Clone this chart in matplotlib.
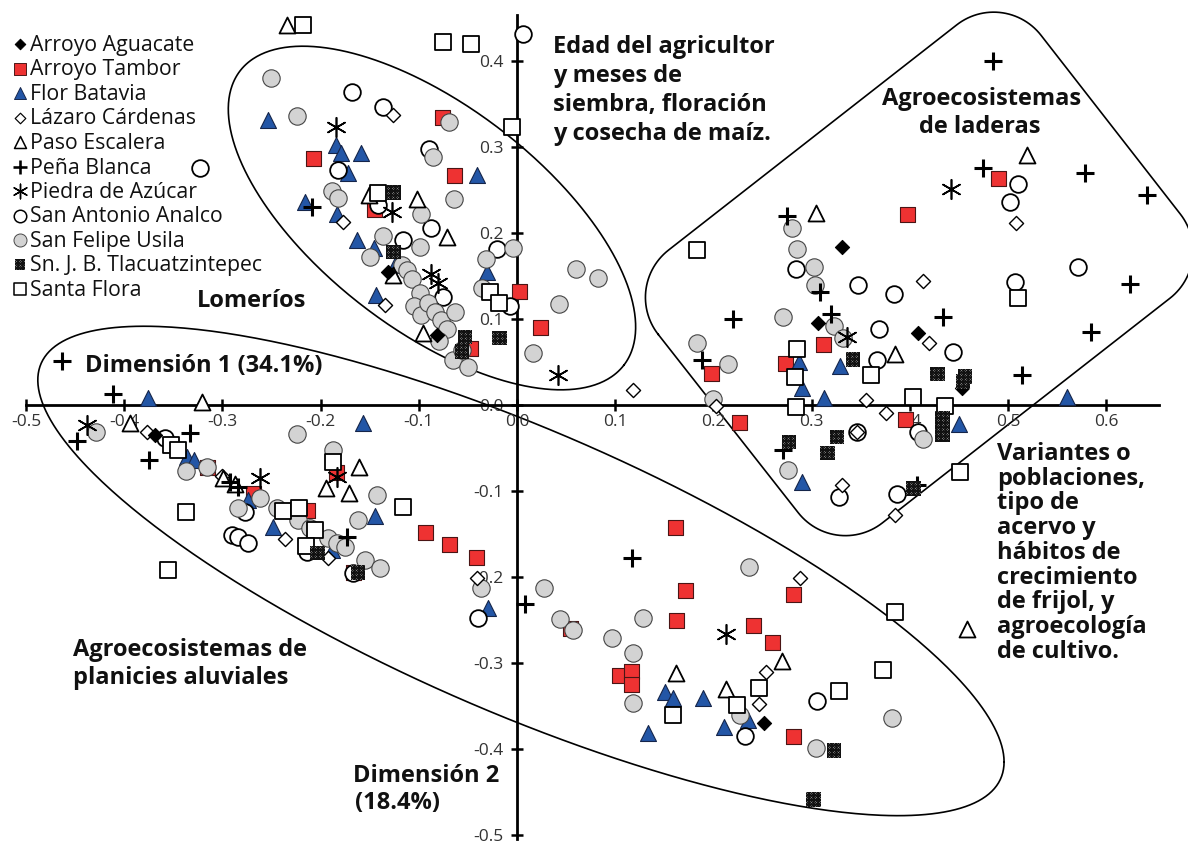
import numpy as np
import matplotlib
matplotlib.use("Agg")
import matplotlib.pyplot as plt

plt.rcParams['font.family'] = ['Open Sans', 'DejaVu Sans']
plt.rcParams['axes.unicode_minus'] = False
plt.rcParams['hatch.linewidth'] = 0.8

# ---------------- data: (Dimensión 1, Dimensión 2) ----------------
aguacate_x = [-0.131, -0.081, 0.331, 0.307, 0.408, 0.453, -0.369, 0.252]
aguacate_y = [0.155, 0.081, 0.184, 0.095, 0.084, 0.020, -0.035, -0.370]

tambor_x = [-0.076, -0.208, -0.064, -0.146, 0.002, 0.023, -0.048,
            0.490, 0.397, 0.312, 0.273, 0.198, 0.226, 0.395,
            -0.316, -0.184, -0.269, -0.214, -0.167, -0.094, -0.069, -0.042,
            0.054, 0.161, 0.171, 0.162, 0.104, 0.116, 0.116, 0.240, 0.260, 0.281, 0.281]
tambor_y = [0.335, 0.287, 0.267, 0.228, 0.133, 0.091, 0.066,
            0.264, 0.222, 0.071, 0.049, 0.037, -0.020, -0.016,
            -0.072, -0.078, -0.102, -0.122, -0.194, -0.148, -0.162, -0.177,
            -0.259, -0.142, -0.215, -0.250, -0.314, -0.309, -0.324, -0.256, -0.276, -0.220, -0.385]

batavia_x = [-0.254, -0.184, -0.179, -0.159, -0.172, -0.216, -0.183, -0.163, -0.146, -0.041,
             -0.144, -0.031, -0.124,
             0.287, 0.329, 0.290, 0.313, 0.450, 0.560, 0.290,
             -0.376, -0.157, -0.336, -0.329, -0.274, -0.248, -0.145, -0.188,
             -0.030, 0.151, 0.159, 0.189, 0.133, 0.211, 0.235]
batavia_y = [0.331, 0.302, 0.293, 0.293, 0.270, 0.236, 0.222, 0.192, 0.183, 0.267,
             0.128, 0.155, 0.163,
             0.050, 0.045, 0.020, 0.008, -0.022, 0.009, -0.090,
             0.008, -0.021, -0.060, -0.064, -0.110, -0.142, -0.129, -0.169,
             -0.236, -0.334, -0.341, -0.341, -0.381, -0.374, -0.366]

lazaro_x = [-0.126, -0.177, -0.134, 0.508, 0.413, 0.420, 0.355, 0.376, 0.346, 0.331,
            0.385, 0.203, 0.118, -0.377, -0.236, -0.192, -0.041, 0.288, 0.254, 0.246, -0.300]
lazaro_y = [0.337, 0.213, 0.116, 0.212, 0.144, 0.072, 0.006, -0.009, -0.031, -0.093,
            -0.128, -0.001, 0.017, -0.031, -0.156, -0.178, -0.201, -0.201, -0.310, -0.348, -0.083]

paso_x = [-0.234, -0.151, -0.102, -0.071, -0.126, -0.096, 0.519, 0.304, 0.385,
          -0.321, -0.394, -0.161, -0.195, -0.171, 0.162, 0.213, 0.270, 0.458, -0.299, -0.287]
paso_y = [0.442, 0.244, 0.240, 0.195, 0.151, 0.084, 0.291, 0.223, 0.059,
          0.003, -0.021, -0.072, -0.097, -0.102, -0.312, -0.330, -0.298, -0.260, -0.085, -0.092]

pena_x = [-0.209, 0.485, 0.475, 0.578, 0.642, 0.624, 0.585, 0.514, 0.434, 0.320, 0.309,
          0.275, 0.220, 0.188, 0.271, 0.407, -0.463, -0.411, -0.448, -0.375, -0.333,
          -0.173, 0.117, 0.008, -0.292, -0.284]
pena_y = [0.230, 0.400, 0.276, 0.270, 0.244, 0.141, 0.085, 0.035, 0.102, 0.106, 0.131,
          0.220, 0.100, 0.052, -0.052, -0.093, 0.051, 0.013, -0.042, -0.064, -0.033,
          -0.153, -0.178, -0.231, -0.090, -0.095]

piedra_x = [-0.184, -0.127, -0.088, -0.080, 0.042, 0.442, 0.336, -0.438, -0.262, -0.183, 0.213]
piedra_y = [0.323, 0.224, 0.152, 0.142, 0.035, 0.251, 0.079, -0.023, -0.085, -0.084, -0.266]

analco_x = [-0.323, 0.006, -0.168, -0.136, -0.090, -0.182, -0.142, -0.088, -0.116, -0.020,
            -0.075, -0.007, 0.510, 0.502, 0.571, 0.507, 0.284, 0.347, 0.384, 0.369,
            0.444, 0.367, 0.346, 0.408, 0.328, 0.387, -0.358, -0.290, -0.284, -0.274,
            -0.277, -0.214, -0.167, -0.040, 0.306, 0.232]
analco_y = [0.276, 0.431, 0.364, 0.347, 0.298, 0.273, 0.233, 0.206, 0.192, 0.181,
            0.126, 0.115, 0.257, 0.236, 0.160, 0.143, 0.158, 0.140, 0.129, 0.088,
            0.062, 0.052, -0.031, -0.031, -0.107, -0.103, -0.038, -0.151, -0.153, -0.160,
            -0.124, -0.171, -0.195, -0.248, -0.344, -0.385]

usila_x = [-0.251, -0.224, -0.069, -0.086, -0.064, -0.188, -0.182, -0.098, -0.136, -0.099,
           -0.150, -0.117, -0.112, -0.107, -0.099, -0.105, -0.098, -0.091, -0.084, -0.077,
           -0.071, -0.063, -0.079, -0.065, -0.050, -0.056, -0.032, -0.004, -0.036, 0.016,
           0.060, 0.082, 0.043,
           0.280, 0.285, 0.302, 0.303, 0.271, 0.323, 0.332, 0.183, 0.215, 0.200, 0.413, 0.276,
           -0.429, -0.337, -0.316, -0.224, -0.187, -0.143, -0.162, -0.284, -0.262, -0.244,
           -0.223, -0.211, -0.192, -0.183, -0.175, -0.155, -0.140,
           -0.037, 0.027, 0.044, 0.057, 0.097, 0.118, 0.128, 0.118, 0.236, 0.227, 0.304, 0.382]
usila_y = [0.380, 0.336, 0.329, 0.288, 0.240, 0.249, 0.241, 0.222, 0.197, 0.184,
           0.172, 0.163, 0.157, 0.147, 0.130, 0.115, 0.105, 0.119, 0.108, 0.099,
           0.088, 0.108, 0.074, 0.052, 0.044, 0.064, 0.170, 0.183, 0.136, 0.060,
           0.158, 0.148, 0.117,
           0.206, 0.181, 0.160, 0.140, 0.102, 0.092, 0.078, 0.072, 0.048, 0.007, -0.040, -0.076,
           -0.031, -0.077, -0.072, -0.034, -0.052, -0.105, -0.134, -0.120, -0.108, -0.120,
           -0.134, -0.143, -0.155, -0.160, -0.165, -0.180, -0.190,
           -0.213, -0.213, -0.249, -0.262, -0.271, -0.288, -0.248, -0.347, -0.188, -0.360, -0.399, -0.364]

tlacu_x = [-0.126, -0.126, -0.053, -0.056, -0.018, 0.342, 0.428, 0.456, 0.454, 0.433,
           0.433, 0.433, 0.277, 0.326, 0.316, 0.404, -0.203, -0.162, 0.323, 0.302]
tlacu_y = [0.247, 0.178, 0.079, 0.062, 0.078, 0.053, 0.036, 0.033, 0.027, -0.023,
           -0.035, -0.015, -0.043, -0.037, -0.056, -0.097, -0.172, -0.195, -0.402, -0.459]

flora_x = [-0.218, -0.075, -0.047, -0.005, -0.142, -0.027, -0.018, 0.183, 0.510, 0.285,
           0.283, 0.360, 0.403, 0.436, 0.284, 0.451, -0.352, -0.345, -0.337, -0.355,
           -0.187, -0.238, -0.222, -0.206, -0.215, -0.116, 0.159, 0.224, 0.246, 0.328, 0.373, 0.385]
flora_y = [0.442, 0.422, 0.420, 0.323, 0.247, 0.131, 0.119, 0.180, 0.124, 0.065,
           0.033, 0.035, 0.009, -0.001, -0.002, -0.078, -0.047, -0.052, -0.124, -0.192,
           -0.066, -0.123, -0.120, -0.145, -0.164, -0.119, -0.360, -0.349, -0.329, -0.333, -0.308, -0.241]

series_labels = ['Arroyo Aguacate', 'Arroyo Tambor', 'Flor Batavia', 'Lázaro Cárdenas',
                 'Paso Escalera', 'Peña Blanca', 'Piedra de Azúcar', 'San Antonio Analco',
                 'San Felipe Usila', 'Sn. J. B. Tlacuatzintepec', 'Santa Flora']

x_ticks = [-0.5, -0.4, -0.3, -0.2, -0.1, 0.0, 0.1, 0.2, 0.3, 0.4, 0.5, 0.6]
x_tick_labels = ['-0.5', '-0.4', '-0.3', '-0.2', '-0.1', '0.0', '0.1', '0.2', '0.3', '0.4', '0.5', '0.6']
y_ticks = [-0.5, -0.4, -0.3, -0.2, -0.1, 0.0, 0.1, 0.2, 0.3, 0.4]
y_tick_labels = ['-0.5', '-0.4', '-0.3', '-0.2', '-0.1', '0.0', '0.1', '0.2', '0.3', '0.4']

# ---------------- figure ----------------
W, H = 1188, 844
fig = plt.figure(figsize=(W / 100, H / 100), dpi=100)
ax = fig.add_axes([0, 0, 1, 1])
ax.set_xlim(-0.5265, 0.6833)
ax.set_ylim(-0.5105, 0.4709)
ax.patch.set_visible(False)
for s in ['top', 'right']:
    ax.spines[s].set_visible(False)
ax.spines['left'].set_position(('data', 0))
ax.spines['bottom'].set_position(('data', 0))
ax.spines['left'].set_bounds(-0.505, 0.453)
ax.spines['bottom'].set_bounds(-0.5, 0.654)
for s in ['left', 'bottom']:
    ax.spines[s].set_linewidth(2.0)
ax.set_xticks(x_ticks, x_tick_labels)
ax.set_yticks(y_ticks, y_tick_labels)
ax.tick_params(axis='both', direction='inout', length=9, width=1.8,
               labelsize=12.5, labelcolor='#333333')
ax.tick_params(axis='x', pad=2)
ax.tick_params(axis='y', pad=5)

RED = '#EE3232'
BLUE = '#2356A6'
GRAY = '#D3D3D3'

styles = {
    'Arroyo Aguacate': dict(marker='D', s=7.2, fc='black', ec='black', lw=0.8),
    'Arroyo Tambor': dict(marker='s', s=10.8, fc=RED, ec='#4a1515', lw=0.8),
    'Flor Batavia': dict(marker='^', s=11.5, fc=BLUE, ec='#15254a', lw=0.8),
    'Lázaro Cárdenas': dict(marker='D', s=7.2, fc='white', ec='black', lw=1.0),
    'Paso Escalera': dict(marker='^', s=11.5, fc='white', ec='black', lw=1.3),
    'Peña Blanca': dict(marker='+', s=13, fc='black', ec='black', lw=2.2),
    'Piedra de Azúcar': dict(marker=(6, 2, 0), s=14, fc='black', ec='black', lw=1.2),
    'San Antonio Analco': dict(marker='o', s=12, fc='white', ec='black', lw=1.3),
    'San Felipe Usila': dict(marker='o', s=12.5, fc=GRAY, ec='#444444', lw=0.8),
    'Sn. J. B. Tlacuatzintepec': dict(marker='s', s=10.5, fc='white', ec='#111111', lw=0.0,
                                      hatch='x' * 13),
    'Santa Flora': dict(marker='s', s=12, fc='white', ec='black', lw=1.3),
}

data = {
    'Arroyo Aguacate': (aguacate_x, aguacate_y),
    'Arroyo Tambor': (tambor_x, tambor_y),
    'Flor Batavia': (batavia_x, batavia_y),
    'Lázaro Cárdenas': (lazaro_x, lazaro_y),
    'Paso Escalera': (paso_x, paso_y),
    'Peña Blanca': (pena_x, pena_y),
    'Piedra de Azúcar': (piedra_x, piedra_y),
    'San Antonio Analco': (analco_x, analco_y),
    'San Felipe Usila': (usila_x, usila_y),
    'Sn. J. B. Tlacuatzintepec': (tlacu_x, tlacu_y),
    'Santa Flora': (flora_x, flora_y),
}

draw_order = ['Arroyo Tambor', 'Flor Batavia', 'San Antonio Analco', 'San Felipe Usila',
              'Lázaro Cárdenas', 'Paso Escalera', 'Arroyo Aguacate', 'Santa Flora',
              'Peña Blanca', 'Piedra de Azúcar', 'Sn. J. B. Tlacuatzintepec']


def draw(name, xs, ys, scale=1.0, transform=None, z=3):
    st = styles[name]
    kw = {}
    if transform is not None:
        kw['transform'] = transform
    line_marker = st['marker'] == '+' or isinstance(st['marker'], tuple)
    fc = st['ec'] if line_marker else st['fc']
    ax.scatter(xs, ys, s=(st['s'] * scale) ** 2, marker=st['marker'], facecolors=fc,
               edgecolors=st['ec'], linewidths=st['lw'] * (0.85 if scale < 1 else 1),
               hatch=st.get('hatch'), zorder=z, clip_on=False, **kw)


for i, name in enumerate(draw_order):
    xs, ys = data[name]
    draw(name, xs, ys, z=3 + i * 0.01)

# ---------------- grouping outlines ----------------
t = np.linspace(0, 2 * np.pi, 500)
# Lomeríos ellipse
ax.plot(-0.0866 + 0.1955 * np.cos(t) - 0.0693 * np.sin(t),
        0.2174 - 0.171 * np.cos(t) - 0.1033 * np.sin(t), color='black', lw=1.2, zorder=1)
# planicies aluviales ellipse
ax.plot(0.004 + 0.492 * np.cos(t),
        -0.193 - 0.222 * np.cos(t) - 0.178 * np.sin(t), color='black', lw=1.2, zorder=1)

# laderas: rounded rotated rectangle
corners = np.array([[0.106, 0.137], [0.496, 0.485], [0.713, 0.167], [0.324, -0.180]])
pd = ax.transData.transform(corners)
r = 60.0
pts = []
k = len(pd)
for i in range(k):
    p0, p1, p2 = pd[i - 1], pd[i], pd[(i + 1) % k]
    d1 = (p0 - p1) / np.linalg.norm(p0 - p1)
    d2 = (p2 - p1) / np.linalg.norm(p2 - p1)
    th = np.arccos(np.clip(np.dot(d1, d2), -1, 1))
    tl = r / np.tan(th / 2)
    a = p1 + d1 * tl
    b = p1 + d2 * tl
    bis = (d1 + d2) / np.linalg.norm(d1 + d2)
    c = p1 + bis * r / np.sin(th / 2)
    aa = np.arctan2(a[1] - c[1], a[0] - c[0])
    ab = np.arctan2(b[1] - c[1], b[0] - c[0])
    diff = (ab - aa + np.pi) % (2 * np.pi) - np.pi
    angs = aa + np.linspace(0, diff, 30)
    pts.extend(np.column_stack([c[0] + r * np.cos(angs), c[1] + r * np.sin(angs)]))
pts.append(pts[0])
pts = ax.transData.inverted().transform(np.array(pts))
ax.plot(pts[:, 0], pts[:, 1], color='black', lw=1.2, zorder=1, clip_on=False)

# ---------------- annotations (figure pixel coords) ----------------
def block(lines, x, y0, step, ha='left', size=17):
    xs = x if isinstance(x, (list, tuple)) else [x] * len(lines)
    for j, ln in enumerate(lines):
        fig.text(xs[j] / W, 1 - (y0 + j * step) / H, ln, ha=ha, va='baseline',
                 fontsize=size, fontweight='bold', color='#111111')

block(['Edad del agricultor', 'y meses de', 'siembra, floración', 'y cosecha de maíz.'], 553, 53, 29)
block(['Agroecosistemas', 'de laderas'], [882, 919], 105, 28)
block(['Lomeríos'], 197, 307, 28)
block(['Dimensión 1 (34.1%)'], 85, 372, 28)
block(['Variantes o', 'poblaciones,', 'tipo de', 'acervo y', 'hábitos de', 'crecimiento',
       'de frijol, y', 'agroecología', 'de cultivo.'], 997, 460, 24.7)
block(['Agroecosistemas de', 'planicies aluviales'], 73, 656, 28)
block(['Dimensión 2', '(18.4%)'], [353, 355], 782, 27)

# ---------------- legend (manual) ----------------
for i, name in enumerate(series_labels):
    yc = 44 + 24.5 * i
    draw(name, [20 / W], [1 - yc / H], scale=0.75, transform=fig.transFigure, z=5)
    fig.text(30 / W, 1 - (yc + 7) / H, name, ha='left', va='baseline', fontsize=15.3,
             color='#111111')

fig.savefig('out.png', dpi=100)
